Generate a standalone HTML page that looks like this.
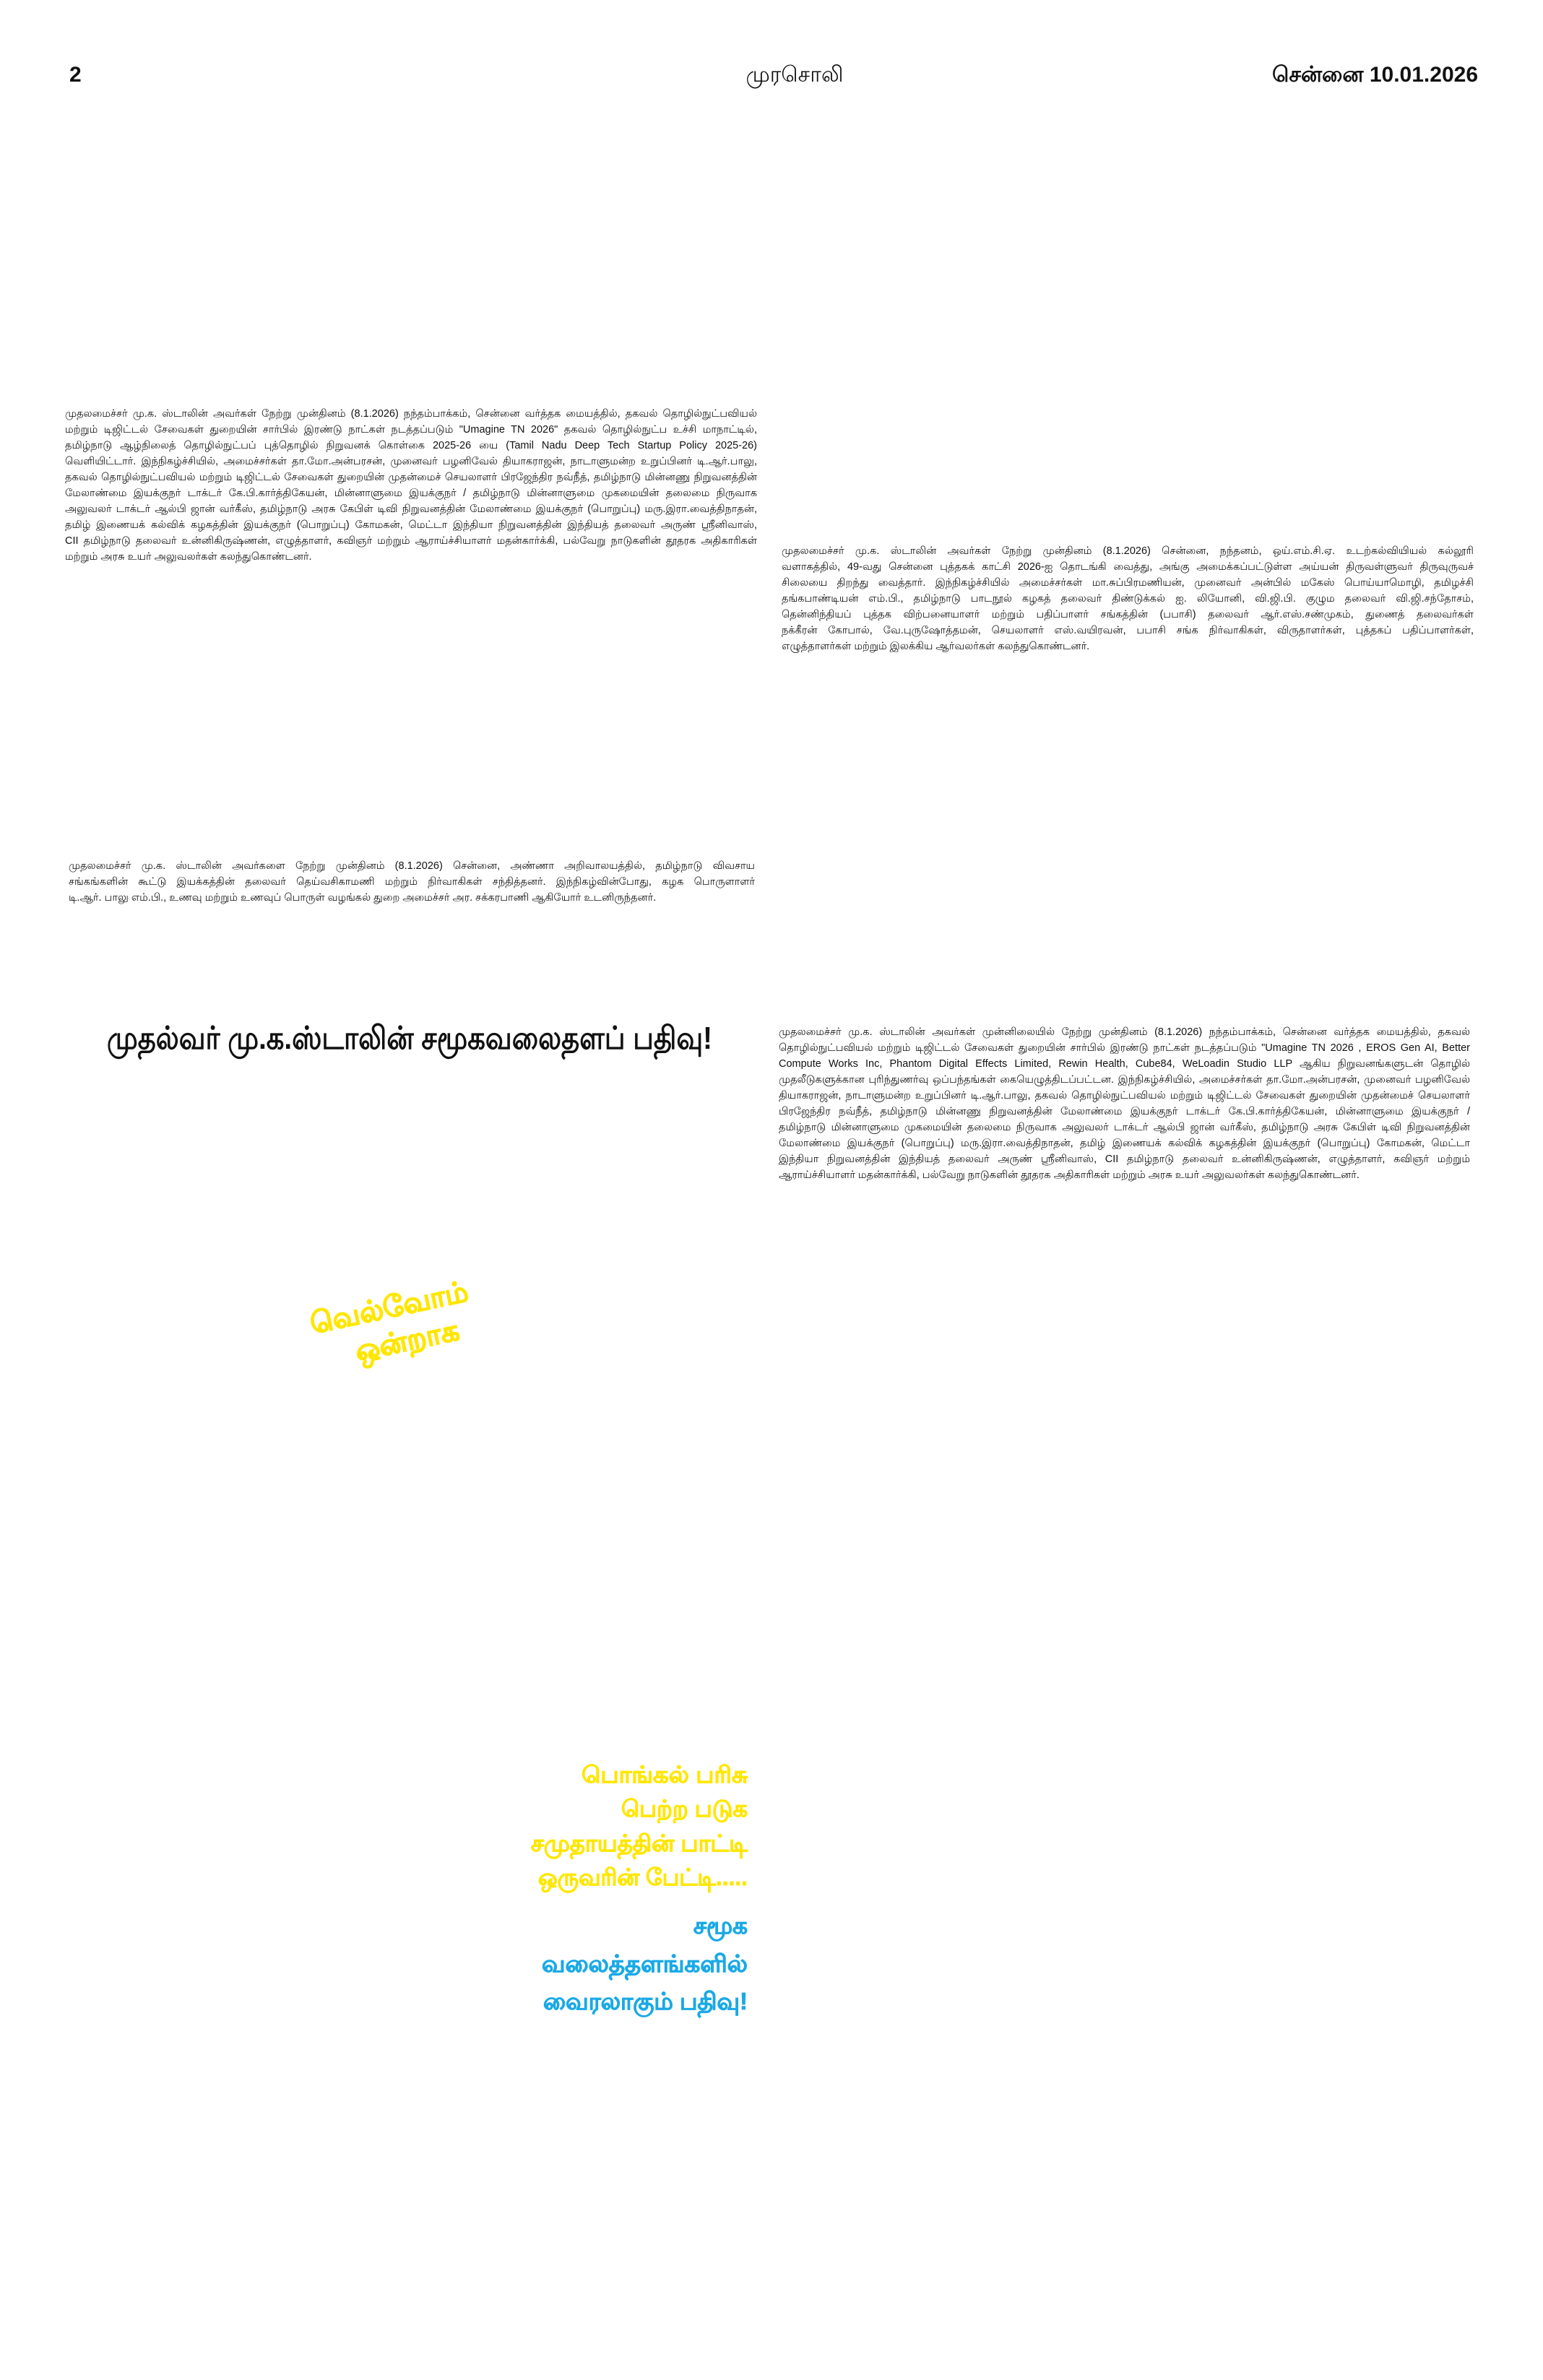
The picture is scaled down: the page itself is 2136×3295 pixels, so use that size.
<!DOCTYPE html>
<html><head><meta charset="utf-8">
<style>
html,body{margin:0;padding:0;background:#fff;}
body{width:2136px;height:3295px;position:relative;overflow:hidden;font-family:"Liberation Sans","Noto Sans CJK SC",sans-serif;color:#111;}
.a{position:absolute;}
.blk div{white-space:nowrap;overflow:hidden;text-align:justify;text-align-last:justify;height:22px;line-height:22px;font-size:14.5px;}
.blk div.l{text-align-last:left;}
.hd{font-size:30px;position:absolute;top:84px;line-height:40px;}
</style></head><body>

<div class="hd" style="left:96px;font-weight:bold;">2</div>
<div class="hd" style="left:1020px;width:160px;text-align:center;">முரசொலி</div>
<div class="hd" style="left:1720px;width:326px;text-align:right;font-weight:bold;">சென்னை 10.01.2026</div>

<div class="a blk" style="left:90px;top:562px;width:958px;">
<div>முதலமைச்சர் மு.க. ஸ்டாலின் அவர்கள் நேற்று முன்தினம் (8.1.2026) நந்தம்பாக்கம், சென்னை வர்த்தக மையத்தில், தகவல் தொழில்நுட்பவியல்</div>
<div>மற்றும் டிஜிட்டல் சேவைகள் துறையின் சார்பில் இரண்டு நாட்கள் நடத்தப்படும் "Umagine TN 2026" தகவல் தொழில்நுட்ப உச்சி மாநாட்டில்,</div>
<div>தமிழ்நாடு ஆழ்நிலைத் தொழில்நுட்பப் புத்தொழில் நிறுவனக் கொள்கை 2025-26 யை (Tamil Nadu Deep Tech Startup Policy 2025-26)</div>
<div>வெளியிட்டார். இந்நிகழ்ச்சியில், அமைச்சர்கள் தா.மோ.அன்பரசன், முனைவர் பழனிவேல் தியாகராஜன், நாடாளுமன்ற உறுப்பினர் டி.ஆர்.பாலு,</div>
<div>தகவல் தொழில்நுட்பவியல் மற்றும் டிஜிட்டல் சேவைகள் துறையின் முதன்மைச் செயலாளர் பிரஜேந்திர நவ்நீத், தமிழ்நாடு மின்னணு நிறுவனத்தின்</div>
<div>மேலாண்மை இயக்குநர் டாக்டர் கே.பி.கார்த்திகேயன், மின்னாளுமை இயக்குநர் / தமிழ்நாடு மின்னாளுமை முகமையின் தலைமை நிருவாக</div>
<div>அலுவலர் டாக்டர் ஆல்பி ஜான் வர்கீஸ், தமிழ்நாடு அரசு கேபிள் டிவி நிறுவனத்தின் மேலாண்மை இயக்குநர் (பொறுப்பு) மரு.இரா.வைத்திநாதன்,</div>
<div>தமிழ் இணையக் கல்விக் கழகத்தின் இயக்குநர் (பொறுப்பு) கோமகன், மெட்டா இந்தியா நிறுவனத்தின் இந்தியத் தலைவர் அருண் ஸ்ரீனிவாஸ்,</div>
<div>CII தமிழ்நாடு தலைவர் உன்னிகிருஷ்ணன், எழுத்தாளர், கவிஞர் மற்றும் ஆராய்ச்சியாளர் மதன்கார்க்கி, பல்வேறு நாடுகளின் தூதரக அதிகாரிகள்</div>
<div class="l">மற்றும் அரசு உயர் அலுவலர்கள் கலந்துகொண்டனர்.</div>
</div>

<div class="a blk" style="left:1082px;top:752px;width:958px;">
<div>முதலமைச்சர் மு.க. ஸ்டாலின் அவர்கள் நேற்று முன்தினம் (8.1.2026) சென்னை, நந்தனம், ஒய்.எம்.சி.ஏ. உடற்கல்வியியல் கல்லூரி</div>
<div>வளாகத்தில், 49-வது சென்னை புத்தகக் காட்சி 2026-ஐ தொடங்கி வைத்து, அங்கு அமைக்கப்பட்டுள்ள அய்யன் திருவள்ளுவர் திருவுருவச்</div>
<div>சிலையை திறந்து வைத்தார். இந்நிகழ்ச்சியில் அமைச்சர்கள் மா.சுப்பிரமணியன், முனைவர் அன்பில் மகேஸ் பொய்யாமொழி, தமிழச்சி</div>
<div>தங்கபாண்டியன் எம்.பி., தமிழ்நாடு பாடநூல் கழகத் தலைவர் திண்டுக்கல் ஐ. லியோனி, வி.ஜி.பி. குழும தலைவர் வி.ஜி.சந்தோசம்,</div>
<div>தென்னிந்தியப் புத்தக விற்பனையாளர் மற்றும் பதிப்பாளர் சங்கத்தின் (பபாசி) தலைவர் ஆர்.எஸ்.சண்முகம், துணைத் தலைவர்கள்</div>
<div>நக்கீரன் கோபால், வே.புருஷோத்தமன், செயலாளர் எஸ்.வயிரவன், பபாசி சங்க நிர்வாகிகள், விருதாளர்கள், புத்தகப் பதிப்பாளர்கள்,</div>
<div class="l">எழுத்தாளர்கள் மற்றும் இலக்கிய ஆர்வலர்கள் கலந்துகொண்டனர்.</div>
</div>

<div class="a blk" style="left:95px;top:1188px;width:950px;">
<div>முதலமைச்சர் மு.க. ஸ்டாலின் அவர்களை நேற்று முன்தினம் (8.1.2026) சென்னை, அண்ணா அறிவாலயத்தில், தமிழ்நாடு விவசாய</div>
<div>சங்கங்களின் கூட்டு இயக்கத்தின் தலைவர் தெய்வசிகாமணி மற்றும் நிர்வாகிகள் சந்தித்தனர். இந்நிகழ்வின்போது, கழக பொருளாளர்</div>
<div class="l">டி.ஆர். பாலு எம்.பி., உணவு மற்றும் உணவுப் பொருள் வழங்கல் துறை அமைச்சர் அர. சக்கரபாணி ஆகியோர் உடனிருந்தனர்.</div>
</div>

<svg class="a" style="left:0;top:0" width="2136" height="3295" xmlns="http://www.w3.org/2000/svg" font-family="Liberation Sans, sans-serif" font-weight="bold">
<text x="148" y="1452" font-size="44" fill="#111" textLength="838" lengthAdjust="spacingAndGlyphs">முதல்வர் மு.க.ஸ்டாலின் சமூகவலைதளப் பதிவு!</text>
<g transform="rotate(-12 545 1840)" fill="#ffe600" stroke="#ffe600" stroke-width="1.2" font-size="40" text-anchor="middle">
<text x="545" y="1823">வெல்வோம்</text>
<text x="560" y="1873">ஒன்றாக</text>
</g>
<g fill="#ffe600" stroke="#ffe600" stroke-width="0.8" font-size="32" text-anchor="end">
<text x="1035" y="2468" textLength="230" lengthAdjust="spacingAndGlyphs">பொங்கல் பரிசு</text>
<text x="1035" y="2515" textLength="175" lengthAdjust="spacingAndGlyphs">பெற்ற படுக</text>
<text x="1035" y="2563" textLength="300" lengthAdjust="spacingAndGlyphs">சமுதாயத்தின் பாட்டி</text>
<text x="1035" y="2610" textLength="290" lengthAdjust="spacingAndGlyphs">ஒருவரின் பேட்டி.....</text>
</g>
<g fill="#1aa9e6" stroke="#1aa9e6" stroke-width="0.8" font-size="33" text-anchor="end">
<text x="1035" y="2677" textLength="75" lengthAdjust="spacingAndGlyphs">சமூக</text>
<text x="1035" y="2730" textLength="285" lengthAdjust="spacingAndGlyphs">வலைத்தளங்களில்</text>
<text x="1035" y="2782" textLength="283" lengthAdjust="spacingAndGlyphs">வைரலாகும் பதிவு!</text>
</g>
</svg>

<div class="a blk" style="left:1078px;top:1418px;width:957px;">
<div>முதலமைச்சர் மு.க. ஸ்டாலின் அவர்கள் முன்னிலையில் நேற்று முன்தினம் (8.1.2026) நந்தம்பாக்கம், சென்னை வர்த்தக மையத்தில், தகவல்</div>
<div>தொழில்நுட்பவியல் மற்றும் டிஜிட்டல் சேவைகள் துறையின் சார்பில் இரண்டு நாட்கள் நடத்தப்படும் "Umagine TN 2026 , EROS Gen AI, Better</div>
<div>Compute Works Inc, Phantom Digital Effects Limited, Rewin Health, Cube84, WeLoadin Studio LLP ஆகிய நிறுவனங்களுடன் தொழில்</div>
<div>முதலீடுகளுக்கான புரிந்துணர்வு ஒப்பந்தங்கள் கையெழுத்திடப்பட்டன. இந்நிகழ்ச்சியில், அமைச்சர்கள் தா.மோ.அன்பரசன், முனைவர் பழனிவேல்</div>
<div>தியாகராஜன், நாடாளுமன்ற உறுப்பினர் டி.ஆர்.பாலு, தகவல் தொழில்நுட்பவியல் மற்றும் டிஜிட்டல் சேவைகள் துறையின் முதன்மைச் செயலாளர்</div>
<div>பிரஜேந்திர நவ்நீத், தமிழ்நாடு மின்னணு நிறுவனத்தின் மேலாண்மை இயக்குநர் டாக்டர் கே.பி.கார்த்திகேயன், மின்னாளுமை இயக்குநர் /</div>
<div>தமிழ்நாடு மின்னாளுமை முகமையின் தலைமை நிருவாக அலுவலர் டாக்டர் ஆல்பி ஜான் வர்கீஸ், தமிழ்நாடு அரசு கேபிள் டிவி நிறுவனத்தின்</div>
<div>மேலாண்மை இயக்குநர் (பொறுப்பு) மரு.இரா.வைத்திநாதன், தமிழ் இணையக் கல்விக் கழகத்தின் இயக்குநர் (பொறுப்பு) கோமகன், மெட்டா</div>
<div>இந்தியா நிறுவனத்தின் இந்தியத் தலைவர் அருண் ஸ்ரீனிவாஸ், CII தமிழ்நாடு தலைவர் உன்னிகிருஷ்ணன், எழுத்தாளர், கவிஞர் மற்றும்</div>
<div class="l">ஆராய்ச்சியாளர் மதன்கார்க்கி, பல்வேறு நாடுகளின் தூதரக அதிகாரிகள் மற்றும் அரசு உயர் அலுவலர்கள் கலந்துகொண்டனர்.</div>
</div>

</body></html>
